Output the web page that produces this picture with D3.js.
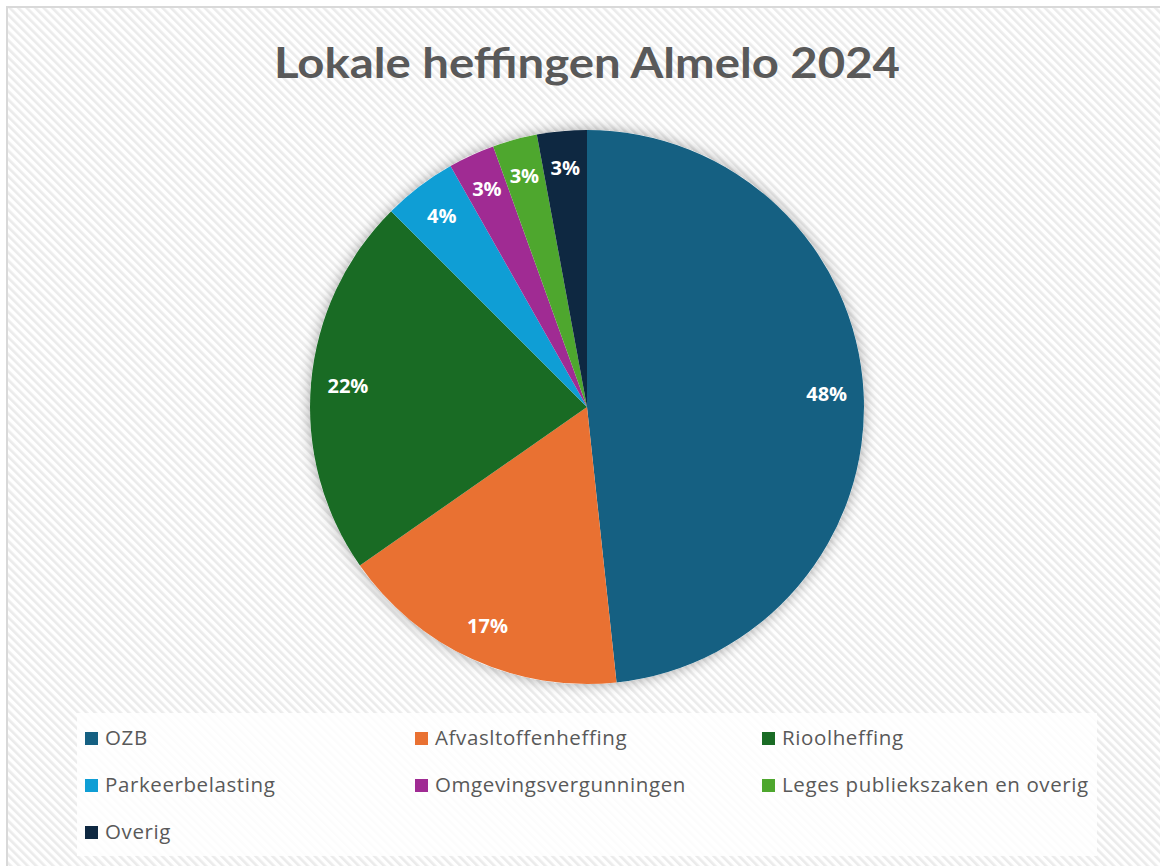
<!DOCTYPE html>
<html lang="nl">
<head>
<meta charset="utf-8">
<title>Lokale heffingen Almelo 2024</title>
<script src="https://d3js.org/d3.v7.min.js"></script>
<style>
  body { margin: 0; background: #fff; }
  svg { display: block; }
</style>
</head>
<body>
<script>
// data
var categories = ["OZB", "Afvalstoffenheffing", "Rioolheffing", "Parkeerbelasting",
                  "Omgevingsvergunningen", "Leges publiekszaken en overig", "Overig"];
var legendLabels = ["OZB", "Afvasltoffenheffing", "Rioolheffing", "Parkeerbelasting",
                    "Omgevingsvergunningen", "Leges publiekszaken en overig", "Overig"];
var values = [48.3, 17.0, 22.2, 4.3, 2.7, 2.6, 2.9];
var colors = ["#156082", "#E97132", "#196B24", "#0F9ED5", "#A02B93", "#4EA72E", "#0E2841"];

var w = 1160, h = 866;
var cx = 587, cy = 407, r = 277;

var svg = d3.select("body").append("svg")
  .attr("width", w)
  .attr("height", h);

var defs = svg.append("defs");

// diagonal hatch background
var pat = defs.append("pattern")
  .attr("id", "hatch")
  .attr("patternUnits", "userSpaceOnUse")
  .attr("width", 6)
  .attr("height", 6)
  .attr("patternTransform", "rotate(-45)");
pat.append("rect").attr("width", 6).attr("height", 6).attr("fill", "#ffffff");
pat.append("rect").attr("x", 0).attr("width", 2.6).attr("height", 6).attr("fill", "#ebebeb");

var shadow = defs.append("filter")
  .attr("id", "shadow")
  .attr("x", "-20%").attr("y", "-20%")
  .attr("width", "140%").attr("height", "140%");
shadow.append("feDropShadow")
  .attr("dx", 0).attr("dy", 0)
  .attr("stdDeviation", 7)
  .attr("flood-color", "#000")
  .attr("flood-opacity", 0.35);

svg.append("rect")
  .attr("width", w).attr("height", h)
  .attr("fill", "#fff");

svg.append("rect")
  .attr("x", 7).attr("y", 7)
  .attr("width", w + 10).attr("height", h + 10)
  .attr("fill", "url(#hatch)")
  .attr("stroke", "#d9d9d9")
  .attr("stroke-width", 2);

// title
svg.append("text")
  .attr("x", cx)
  .attr("y", 78)
  .attr("text-anchor", "middle")
  .attr("font-family", "Lato, 'Open Sans', sans-serif")
  .attr("font-weight", "bold")
  .attr("font-size", "42px")
  .attr("fill", "#595959")
  .attr("textLength", 626)
  .attr("lengthAdjust", "spacingAndGlyphs")
  .text("Lokale heffingen Almelo 2024");

// pie
var pie = d3.pie().sort(null).value(function(d) { return d; });
var arcs = pie(values);
var total = d3.sum(values);
var arc = d3.arc().innerRadius(0).outerRadius(r);
var labelArc = d3.arc().innerRadius(240).outerRadius(240);
var pct = d3.format(".0%");

var g = svg.append("g")
  .attr("transform", "translate(" + cx + "," + cy + ")");

g.append("circle")
  .attr("r", r)
  .attr("fill", "#fff")
  .attr("filter", "url(#shadow)");

g.selectAll("path")
  .data(arcs)
  .enter()
  .append("path")
  .attr("d", arc)
  .attr("fill", function(d, i) { return colors[i]; });

g.selectAll("text.lbl")
  .data(arcs)
  .enter()
  .append("text")
  .attr("class", "lbl")
  .attr("transform", function(d) { return "translate(" + labelArc.centroid(d) + ")"; })
  .attr("text-anchor", "middle")
  .attr("dy", "0.36em")
  .attr("font-family", "'Open Sans', sans-serif")
  .attr("font-weight", "bold")
  .attr("font-size", "20px")
  .attr("fill", "#fff")
  .text(function(d) { return pct(d.value / total); });

// legend
svg.append("rect")
  .attr("x", 77).attr("y", 713)
  .attr("width", 1020).attr("height", 143)
  .attr("fill", "#fff")
  .attr("fill-opacity", 0.85);

var colX = [85, 415, 762];
var rowY = [738, 785, 832];

var leg = svg.selectAll("g.leg")
  .data(legendLabels)
  .enter()
  .append("g")
  .attr("class", "leg")
  .attr("transform", function(d, i) {
    return "translate(" + colX[i % 3] + "," + rowY[Math.floor(i / 3)] + ")";
  });

leg.append("rect")
  .attr("x", 0).attr("y", -6)
  .attr("width", 13).attr("height", 13)
  .attr("fill", function(d, i) { return colors[i]; });

leg.append("text")
  .attr("x", 20)
  .attr("dy", "0.35em")
  .attr("font-family", "'Open Sans', sans-serif")
  .attr("font-size", "20.5px")
  .attr("letter-spacing", "0.6px")
  .attr("fill", "#595959")
  .text(function(d) { return d; });
</script>
</body>
</html>
